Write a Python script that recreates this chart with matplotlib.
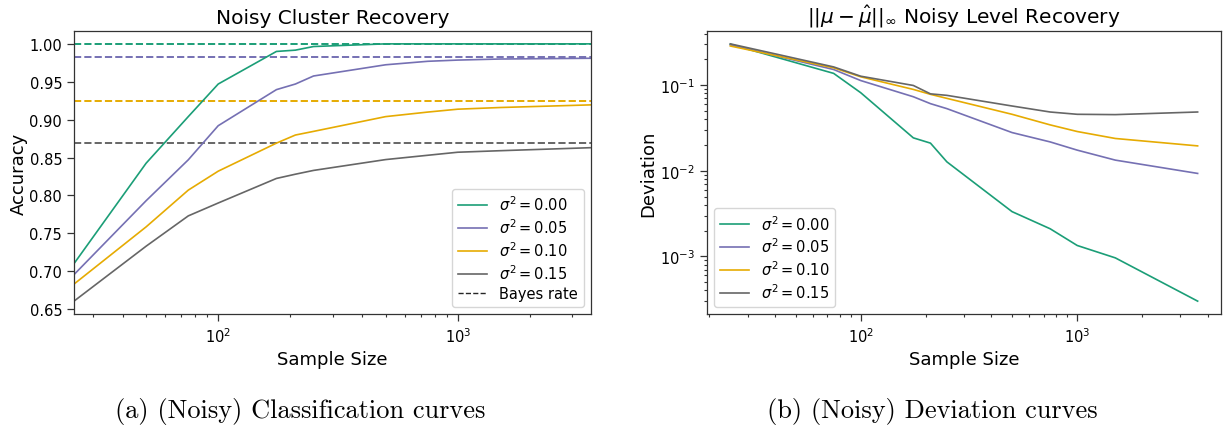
import numpy as np
import matplotlib
matplotlib.use("Agg")
import matplotlib.pyplot as plt
from matplotlib.lines import Line2D

# sample sizes shared by both panels
sizes = [25, 50, 75, 100, 175, 210, 250, 500, 750, 1000, 1500, 3600]
noise = ["0.00", "0.05", "0.10", "0.15"]

acc_00 = [0.710, 0.8425, 0.904, 0.947, 0.990, 0.9917, 0.9965, 1.0, 1.0, 1.0, 1.0, 1.0]
acc_05 = [0.6955, 0.793, 0.847, 0.892, 0.9396, 0.947, 0.9576, 0.9724, 0.977, 0.9786, 0.980, 0.981]
acc_10 = [0.683, 0.7585, 0.807, 0.832, 0.869, 0.8797, 0.8845, 0.904, 0.910, 0.9138, 0.916, 0.9195]
acc_15 = [0.6605, 0.733, 0.773, 0.790, 0.8224, 0.828, 0.833, 0.8473, 0.853, 0.857, 0.859, 0.863]
bayes = [1.0, 0.983, 0.9243, 0.869]

dev_00 = [0.300, 0.183, 0.137, 0.0815, 0.0242, 0.0210, 0.0127, 0.00333, 0.0021, 0.00134, 0.00096, 0.0003]
dev_05 = [0.295, 0.194, 0.152, 0.113, 0.0731, 0.0607, 0.0531, 0.0279, 0.0217, 0.0174, 0.0133, 0.0093]
dev_10 = [0.286, 0.198, 0.159, 0.125, 0.089, 0.078, 0.070, 0.0456, 0.0343, 0.0287, 0.0238, 0.0195]
dev_15 = [0.303, 0.205, 0.163, 0.127, 0.099, 0.079, 0.0759, 0.057, 0.0485, 0.0456, 0.0452, 0.0485]

colors = ["#1b9e77", "#7570b3", "#e6ab02", "#666666"]

W, H = 1224, 427
fig = plt.figure(figsize=(W / 100, H / 100), dpi=100)


def px_axes(x0, x1, top, bottom):
    return fig.add_axes([x0 / W, 1 - bottom / H, (x1 - x0) / W, (bottom - top) / H])


def style(ax):
    for s in ax.spines.values():
        s.set_color("0.2")
        s.set_linewidth(0.9)
    ax.tick_params(which="major", length=5, width=0.9, labelsize=10.5, color="0.2")
    ax.tick_params(which="minor", length=2.5, width=0.8, color="0.2")


# (a) classification curves
ax1 = px_axes(74, 591, 32, 315)
for acc, b, c in zip([acc_00, acc_05, acc_10, acc_15], bayes, colors):
    ax1.axhline(b, color=c, linestyle="--", linewidth=1.4, zorder=1)
for acc, lab, c in zip([acc_00, acc_05, acc_10, acc_15], noise, colors):
    ax1.plot(sizes, acc, color=c, linewidth=1.2, label=r"$\sigma^2 = %s$" % lab, zorder=2)
ax1.set_xscale("log")
ax1.set_xlim(sizes[0], sizes[-1])
ax1.set_title("Noisy Cluster Recovery", fontsize=14.5)
ax1.set_xlabel("Sample Size", fontsize=13)
ax1.set_ylabel("Accuracy", fontsize=13, labelpad=1)
style(ax1)
h, l = ax1.get_legend_handles_labels()
h.append(Line2D([], [], color="0.15", linestyle="--", linewidth=1.0))
l.append("Bayes rate")
ax1.legend(h, l, loc="lower right", fontsize=10.5, labelspacing=0.28)

# (b) deviation curves
ax2 = px_axes(707, 1221, 32, 315)
for dev, lab, c in zip([dev_00, dev_05, dev_10, dev_15], noise, colors):
    ax2.plot(sizes, dev, color=c, linewidth=1.2, label=r"$\sigma^2 = %s$" % lab)
ax2.set_xscale("log")
ax2.set_yscale("log")
ax2.set_title(r"$||\mu - \hat{\mu}||_\infty$ Noisy Level Recovery", fontsize=14.5)
ax2.set_xlabel("Sample Size", fontsize=13)
ax2.set_ylabel("Deviation", fontsize=13, labelpad=2)
style(ax2)
ax2.legend(loc="lower left", fontsize=10.5, labelspacing=0.28)

fig.text(300 / W, 1 - 412 / H, "(a) (Noisy) Classification curves",
         family="cmr10", fontsize=19, ha="center", va="center")
fig.text(932 / W, 1 - 412 / H, "(b) (Noisy) Deviation curves",
         family="cmr10", fontsize=19, ha="center", va="center")

fig.savefig("out.png", dpi=100)
